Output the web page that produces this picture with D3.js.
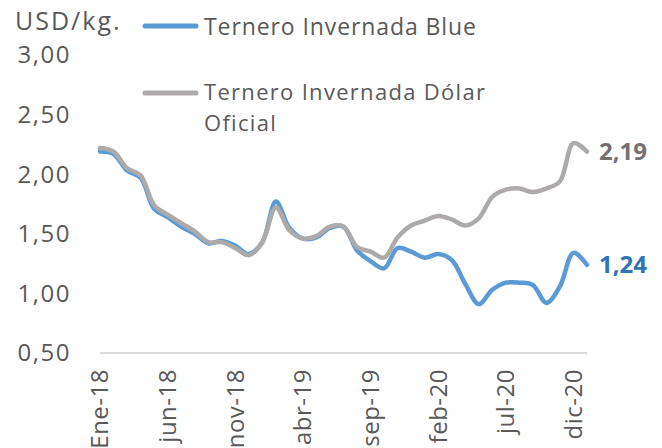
<!DOCTYPE html>
<html>
<head>
<meta charset="utf-8">
<script src="https://cdnjs.cloudflare.com/ajax/libs/d3/7.8.5/d3.min.js"></script>
<style>
  body { margin: 0; background: #fff; }
  svg { display: block; font-family: "Open Sans", sans-serif; }
</style>
</head>
<body>
<div id="chart"></div>
<script>
// monthly series, Ene-18 .. ene-21
var months = ["Ene-18","feb-18","mar-18","abr-18","may-18","jun-18","jul-18","ago-18","sep-18","oct-18","nov-18","dic-18",
              "ene-19","feb-19","mar-19","abr-19","may-19","jun-19","jul-19","ago-19","sep-19","oct-19","nov-19","dic-19",
              "ene-20","feb-20","mar-20","abr-20","may-20","jun-20","jul-20","ago-20","sep-20","oct-20","nov-20","dic-20",
              "ene-21"];
var blue = [2.19, 2.17, 2.03, 1.97, 1.71, 1.64, 1.56, 1.50, 1.42, 1.44, 1.40, 1.33,
            1.43, 1.77, 1.55, 1.46, 1.47, 1.55, 1.56, 1.36, 1.27, 1.21, 1.38, 1.35,
            1.30, 1.33, 1.28, 1.08, 0.91, 1.03, 1.09, 1.09, 1.07, 0.92, 1.06, 1.34,
            1.24];
var oficial = [2.22, 2.19, 2.05, 1.99, 1.74, 1.66, 1.59, 1.52, 1.43, 1.43, 1.38, 1.32,
               1.43, 1.72, 1.53, 1.46, 1.48, 1.56, 1.56, 1.39, 1.35, 1.30, 1.47, 1.57,
               1.61, 1.65, 1.62, 1.57, 1.63, 1.81, 1.87, 1.88, 1.85, 1.88, 1.94, 2.26,
               2.19];
var yTicks = [0.5, 1.0, 1.5, 2.0, 2.5, 3.0];
var tickMonths = ["Ene-18","jun-18","nov-18","abr-19","sep-19","feb-20","jul-20","dic-20"];
var seriesNames = ["Ternero Invernada Blue", "Ternero Invernada Dólar Oficial"];

var width = 662, height = 448;
var fmt = function (d) { return d.toFixed(2).replace(".", ","); };

var svg = d3.select("#chart").append("svg")
    .attr("width", width)
    .attr("height", height);

var x = d3.scalePoint().domain(months).range([100, 587]);
var y = d3.scaleLinear().domain([0.5, 3.0]).range([353, 55]);

// y labels
svg.append("g")
    .selectAll("text")
    .data(yTicks)
    .enter().append("text")
    .attr("x", 71)
    .attr("y", function (d) { return y(d); })
    .attr("dy", "0.35em")
    .attr("text-anchor", "end")
    .attr("font-size", 24)
    .attr("letter-spacing", 1.5)
    .attr("fill", "#595959")
    .text(fmt);

// x axis line
svg.append("line")
    .attr("x1", x.range()[0])
    .attr("x2", x.range()[1])
    .attr("y1", y(0.5))
    .attr("y2", y(0.5))
    .attr("stroke", "#d9d9d9")
    .attr("stroke-width", 2);

// x labels, rotated
svg.append("g")
    .selectAll("text")
    .data(tickMonths)
    .enter().append("text")
    .attr("transform", function (d) { return "translate(" + x(d) + "," + 369 + ") rotate(-90)"; })
    .attr("dy", "0.35em")
    .attr("text-anchor", "end")
    .attr("font-size", 24)
    .attr("letter-spacing", 0.5)
    .attr("fill", "#595959")
    .text(function (d) { return d; });

var line = d3.line()
    .x(function (d, i) { return x(months[i]); })
    .y(function (d) { return y(d); })
    .curve(d3.curveCatmullRom.alpha(0.5));

svg.append("path")
    .datum(blue)
    .attr("fill", "none")
    .attr("stroke", "#5b9bd5")
    .attr("stroke-width", 4.5)
    .attr("stroke-linejoin", "round")
    .attr("stroke-linecap", "round")
    .attr("d", line);

svg.append("path")
    .datum(oficial)
    .attr("fill", "none")
    .attr("stroke", "#aeaaaa")
    .attr("stroke-width", 4.5)
    .attr("stroke-linejoin", "round")
    .attr("stroke-linecap", "round")
    .attr("d", line);

// end labels
var last = months.length - 1;
svg.append("text")
    .attr("x", x(months[last]) + 12)
    .attr("y", y(oficial[last]))
    .attr("dy", "0.35em")
    .attr("font-size", 24)
    .attr("font-weight", "bold")
    .attr("fill", "#767171")
    .text(fmt(oficial[last]));

svg.append("text")
    .attr("x", x(months[last]) + 12)
    .attr("y", y(blue[last]))
    .attr("dy", "0.35em")
    .attr("font-size", 24)
    .attr("font-weight", "bold")
    .attr("fill", "#2e75b6")
    .text(fmt(blue[last]));

// unit
svg.append("text")
    .attr("x", 15)
    .attr("y", 30)
    .attr("font-size", 25)
    .attr("letter-spacing", 2)
    .attr("fill", "#595959")
    .text("USD/kg.");

// legend
svg.append("line")
    .attr("x1", 145).attr("x2", 196)
    .attr("y1", 26).attr("y2", 26)
    .attr("stroke", "#5b9bd5")
    .attr("stroke-width", 5)
    .attr("stroke-linecap", "round");
svg.append("text")
    .attr("x", 204).attr("y", 35)
    .attr("font-size", 23)
    .attr("letter-spacing", 0.9)
    .attr("fill", "#595959")
    .text(seriesNames[0]);

svg.append("line")
    .attr("x1", 145).attr("x2", 196)
    .attr("y1", 93).attr("y2", 93)
    .attr("stroke", "#aeaaaa")
    .attr("stroke-width", 5)
    .attr("stroke-linecap", "round");
// second legend entry wraps onto two lines
var words = seriesNames[1].split(" ");
svg.append("text")
    .attr("x", 204).attr("y", 100)
    .attr("font-size", 22)
    .attr("letter-spacing", 1.3)
    .attr("fill", "#595959")
    .text(words.slice(0, 3).join(" "));
svg.append("text")
    .attr("x", 204).attr("y", 130.5)
    .attr("font-size", 22)
    .attr("letter-spacing", 1.3)
    .attr("fill", "#595959")
    .text(words.slice(3).join(" "));
</script>
</body>
</html>
